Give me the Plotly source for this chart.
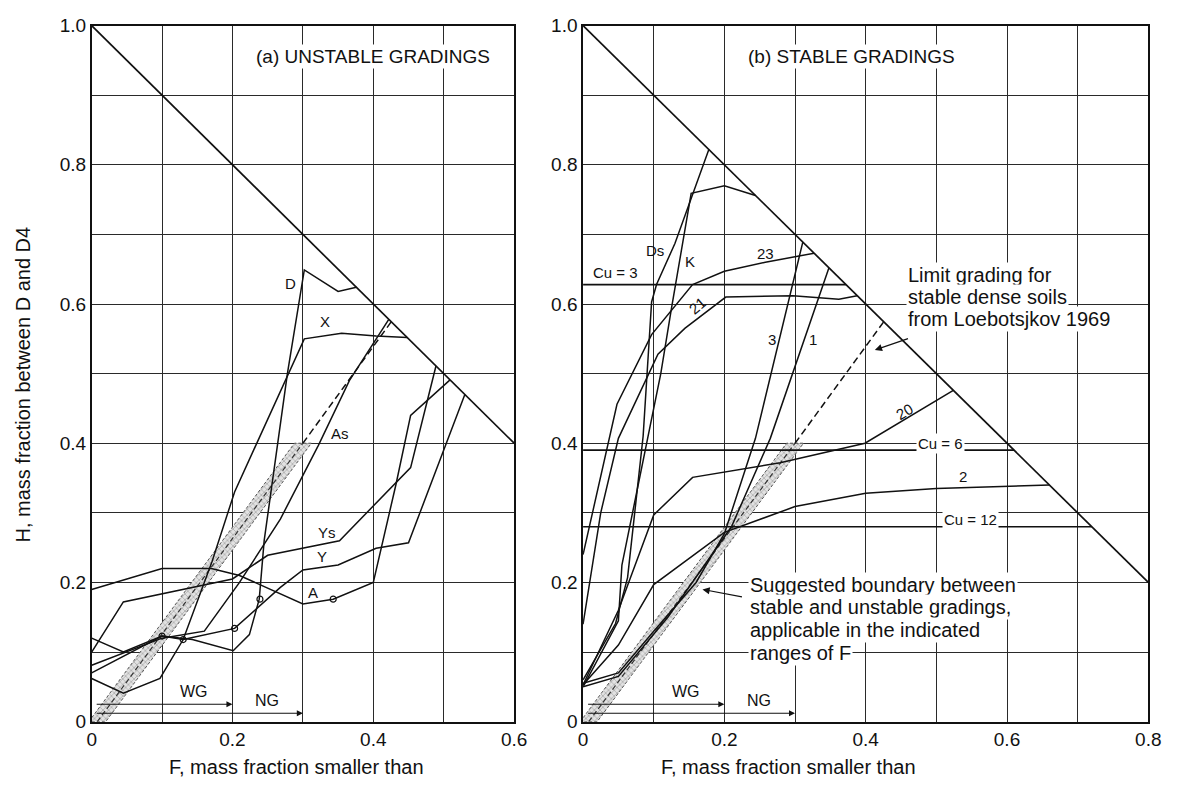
import plotly.graph_objects as go

# ---------------- data ----------------
# (a) unstable gradings: F (mass fraction smaller than) vs H
D_F = [0, 0.045, 0.10, 0.143, 0.201, 0.224, 0.238, 0.245, 0.278, 0.302, 0.35, 0.376]
D_H = [0.12, 0.10, 0.123, 0.118, 0.102, 0.125, 0.176, 0.26, 0.50, 0.649, 0.618, 0.624]
X_F = [0, 0.045, 0.097, 0.13, 0.171, 0.203, 0.302, 0.355, 0.404, 0.448]
X_H = [0.062, 0.041, 0.062, 0.118, 0.23, 0.33, 0.55, 0.558, 0.554, 0.552]
AS_F = [0, 0.10, 0.16, 0.21, 0.268, 0.322, 0.366, 0.422]
AS_H = [0.081, 0.12, 0.13, 0.20, 0.291, 0.397, 0.49, 0.578]
YS_F = [0, 0.045, 0.20, 0.25, 0.352, 0.453, 0.489]
YS_H = [0.10, 0.172, 0.205, 0.239, 0.26, 0.365, 0.511]
Y_F = [0, 0.10, 0.13, 0.203, 0.268, 0.30, 0.35, 0.404, 0.45, 0.53]
Y_H = [0.07, 0.123, 0.118, 0.134, 0.193, 0.218, 0.225, 0.249, 0.257, 0.47]
A_F = [0, 0.10, 0.17, 0.21, 0.30, 0.343, 0.40, 0.432, 0.453, 0.509]
A_H = [0.19, 0.22, 0.22, 0.21, 0.169, 0.176, 0.20, 0.34, 0.44, 0.491]
UNSTABLE = {"D": (D_F, D_H), "X": (X_F, X_H), "As": (AS_F, AS_H),
            "Ys": (YS_F, YS_H), "Y": (Y_F, Y_H), "A": (A_F, A_H)}
POINT_F = [0.203, 0.239, 0.343, 0.10, 0.13]
POINT_H = [0.134, 0.176, 0.176, 0.123, 0.118]

# (b) stable gradings
DS_F = [0, 0.046, 0.063, 0.085, 0.097, 0.104, 0.13, 0.178]
DS_H = [0.06, 0.141, 0.207, 0.41, 0.603, 0.628, 0.687, 0.822]
K_F = [0, 0.05, 0.055, 0.08, 0.11, 0.125, 0.153, 0.2, 0.244]
K_H = [0.05, 0.145, 0.225, 0.35, 0.50, 0.593, 0.759, 0.77, 0.756]
G23_F = [0, 0.048, 0.097, 0.155, 0.2, 0.258, 0.327]
G23_H = [0.24, 0.456, 0.556, 0.628, 0.647, 0.66, 0.673]
G21_F = [0, 0.025, 0.05, 0.106, 0.144, 0.202, 0.297, 0.362, 0.388]
G21_H = [0.14, 0.30, 0.407, 0.528, 0.565, 0.61, 0.612, 0.607, 0.612]
G20_F = [0, 0.05, 0.10, 0.155, 0.279, 0.325, 0.399, 0.524]
G20_H = [0.053, 0.16, 0.297, 0.351, 0.372, 0.383, 0.40, 0.476]
G3_F = [0, 0.05, 0.10, 0.16, 0.20, 0.244, 0.311]
G3_H = [0.055, 0.07, 0.13, 0.20, 0.27, 0.407, 0.689]
G1_F = [0, 0.05, 0.12, 0.21, 0.265, 0.348]
G1_H = [0.05, 0.065, 0.15, 0.28, 0.407, 0.652]
G2_F = [0, 0.05, 0.10, 0.20, 0.30, 0.40, 0.50, 0.66]
G2_H = [0.053, 0.11, 0.197, 0.272, 0.309, 0.328, 0.335, 0.34]
STABLE = [(DS_F, DS_H), (K_F, K_H), (G23_F, G23_H), (G21_F, G21_H),
          (G20_F, G20_H), (G3_F, G3_H), (G1_F, G1_H), (G2_F, G2_H)]

# uniform gradings (constant H) and their Cu values
CU_VALUES = ["3", "6", "12"]
CU_H = [0.628, 0.39, 0.28]

# suggested boundary band (centre line) and its dashed extension
BAND_F = [0.008, 0.30]
BAND_H = [0.0, 0.40]
BAND_HALF = 0.012
LIMIT_F = [0.30, 0.4255]
LIMIT_H = [0.40, 0.5745]

# ranges of F where the boundary applies
WG_F = 0.2
NG_F = 0.3

X_MAX = [0.6, 0.8]
TICKS_X = [[0, 0.2, 0.4, 0.6], [0, 0.2, 0.4, 0.6, 0.8]]
TICKS_Y = [0, 0.2, 0.4, 0.6, 0.8, 1.0]

LIMIT_NOTE = ["Limit grading for", "stable dense soils", "from Loebotsjkov 1969"]
BOUNDARY_NOTE = ["Suggested boundary between", "stable and unstable gradings,",
                 "applicable in the indicated", "ranges of F"]

# ---------------- figure ----------------
W, H = 1182, 794
INK = "#111111"
FONT = "Liberation Sans, Arial, sans-serif"
fig = go.Figure()


def line(xs, ys, ax, width=1.5, dash="solid", color=INK):
    fig.add_trace(go.Scatter(x=xs, y=ys, mode="lines", xaxis=ax, yaxis="y" if ax == "x" else "y2",
                             line=dict(color=color, width=width, dash=dash),
                             hoverinfo="skip", showlegend=False))


for i, ax in enumerate(["x", "x2"]):
    xm = X_MAX[i]
    # boundary H = 1 - F
    line([0, xm], [1, 1 - xm], ax, width=1.7)
    # hatched band
    bx = [BAND_F[0] - BAND_HALF, BAND_F[1] - BAND_HALF, BAND_F[1] + BAND_HALF, BAND_F[0] + BAND_HALF, BAND_F[0] - BAND_HALF]
    by = [BAND_H[0], BAND_H[1], BAND_H[1], BAND_H[0], BAND_H[0]]
    fig.add_trace(go.Scatter(x=bx, y=by, mode="lines", fill="toself", fillcolor="rgba(170,170,170,0.55)",
                             fillpattern=dict(shape="x", size=4, solidity=0.35, fgcolor="#777777",
                                              bgcolor="#e2e2e2"),
                             line=dict(color="#555555", width=1, dash="3px,2px"),
                             xaxis=ax, yaxis="y" if ax == "x" else "y2", hoverinfo="skip", showlegend=False))
    line(BAND_F, BAND_H, ax, width=1.2, dash="5px,3px", color="#333333")
    line(LIMIT_F, LIMIT_H, ax, width=1.5, dash="7px,4px")

for name, (fx, hy) in UNSTABLE.items():
    line(fx, hy, "x")
fig.add_trace(go.Scatter(x=POINT_F, y=POINT_H, mode="markers", xaxis="x", yaxis="y",
                         marker=dict(symbol="circle-open", size=6, color=INK, line=dict(width=1.2)),
                         hoverinfo="skip", showlegend=False))

for fx, hy in STABLE:
    line(fx, hy, "x2")
for hv in CU_H:
    line([0, 1 - hv], [hv, hv], "x2", width=1.7)

annotations = []


def text(x, y, s, ax, size=15, bg=None, angle=0, xanchor="center", align="center"):
    annotations.append(dict(x=x, y=y, xref=ax, yref="y" if ax == "x" else "y2", text=s, showarrow=False,
                            font=dict(family=FONT, size=size, color=INK), bgcolor=bg, borderpad=1,
                            textangle=angle, xanchor=xanchor, yanchor="middle", align=align))


# titles
text(0.40, 0.955, "(a) UNSTABLE GRADINGS", "x", size=19, bg="white")
text(0.38, 0.955, "(b) STABLE GRADINGS", "x2", size=19, bg="white")

# curve labels (a)
for s, fx, hy in [("D", 0.283, 0.630), ("X", 0.332, 0.575), ("As", 0.352, 0.414),
                  ("Ys", 0.334, 0.272), ("Y", 0.327, 0.237), ("A", 0.315, 0.186)]:
    text(fx, hy, s, "x", size=15)

# curve labels (b)
for s, fx, hy, ang in [("Ds", 0.102, 0.677, 0), ("K", 0.151, 0.661, 0), ("23", 0.258, 0.672, 0),
                       ("21", 0.162, 0.598, -40), ("3", 0.268, 0.549, 0), ("1", 0.325, 0.549, 0),
                       ("20", 0.455, 0.446, -30), ("2", 0.538, 0.352, 0)]:
    text(fx, hy, s, "x2", size=15, angle=ang)
for s, fx, hy in zip(CU_VALUES, [0.046, 0.506, 0.548], [0.645, 0.400, 0.290]):
    text(fx, hy, "Cu = " + s, "x2", size=15, bg="white" if s != "3" else None)

# explanatory notes, one annotation per line
for k, s in enumerate(LIMIT_NOTE):
    text(0.457, 0.641 - 0.031 * k, s, "x2", size=20, bg="white", xanchor="left", align="left")
annotations.append(dict(x=0.413, y=0.534, xref="x2", yref="y2", ax=0.462, ay=0.551, axref="x2", ayref="y2",
                        text="", showarrow=True, arrowhead=2, arrowsize=1.2, arrowwidth=1.2, arrowcolor=INK))
for k, s in enumerate(BOUNDARY_NOTE):
    text(0.234, 0.197 - 0.0327 * k, s, "x2", size=20, bg="white", xanchor="left", align="left")
annotations.append(dict(x=0.169, y=0.190, xref="x2", yref="y2", ax=0.227, ay=0.179, axref="x2", ayref="y2",
                        text="", showarrow=True, arrowhead=2, arrowsize=1.2, arrowwidth=1.2, arrowcolor=INK))

# WG / NG ranges
for ax in ["x", "x2"]:
    yr = "y" if ax == "x" else "y2"
    for fend, hy in [(WG_F, 0.025), (NG_F, 0.012)]:
        annotations.append(dict(x=fend, y=hy, xref=ax, yref=yr, ax=0.005, ay=hy, axref=ax, ayref=yr,
                                text="", showarrow=True, arrowhead=2, arrowsize=1.1, arrowwidth=1.1,
                                arrowcolor=INK))
    text(0.146, 0.043, "WG", ax, size=16)
    text(0.249, 0.031, "NG", ax, size=16)

# axis titles
annotations.append(dict(x=18 / W, y=(794 - 385) / H, xref="paper", yref="paper", showarrow=False,
                        xanchor="center", yanchor="middle",
                        text="H, mass fraction between D and D4", textangle=-90,
                        font=dict(family=FONT, size=20, color=INK)))
for px in [296, 796]:
    annotations.append(dict(x=px / W, y=(794 - 778) / H, xref="paper", yref="paper", showarrow=False,
                            xanchor="center", yanchor="middle",
                            text="F, mass fraction smaller than", font=dict(family=FONT, size=20, color=INK)))


def fmt(v):
    return "0" if v == 0 else f"{v:.1f}"


axis_common = dict(showline=True, mirror=True, linecolor=INK, linewidth=1.5, zeroline=False,
                   showgrid=True, gridcolor="#2a2a2a", gridwidth=1,
                   ticks="", tickfont=dict(family=FONT, size=19, color=INK),
                   minor=dict(dtick=0.1, showgrid=True, gridcolor="#2a2a2a", gridwidth=1))

y_dom = [(H - 731) / H, (H - 16) / H]
fig.update_layout(
    width=W, height=H, margin=dict(l=0, r=0, t=0, b=0),
    paper_bgcolor="white", plot_bgcolor="white",
    xaxis=dict(domain=[88 / W, 517 / W], range=[0, X_MAX[0]], tickvals=TICKS_X[0],
               ticktext=[fmt(v) for v in TICKS_X[0]], anchor="y", **axis_common),
    yaxis=dict(domain=y_dom, range=[0, 1], tickvals=TICKS_Y, ticktext=[fmt(v) for v in TICKS_Y],
               anchor="x", **axis_common),
    xaxis2=dict(domain=[587 / W, 1161 / W], range=[0, X_MAX[1]], tickvals=TICKS_X[1],
                ticktext=[fmt(v) for v in TICKS_X[1]], anchor="y2", **axis_common),
    yaxis2=dict(domain=y_dom, range=[0, 1], tickvals=TICKS_Y, ticktext=[fmt(v) for v in TICKS_Y],
                anchor="x2", **axis_common),
    annotations=annotations,
)

fig.write_html("out.html")
